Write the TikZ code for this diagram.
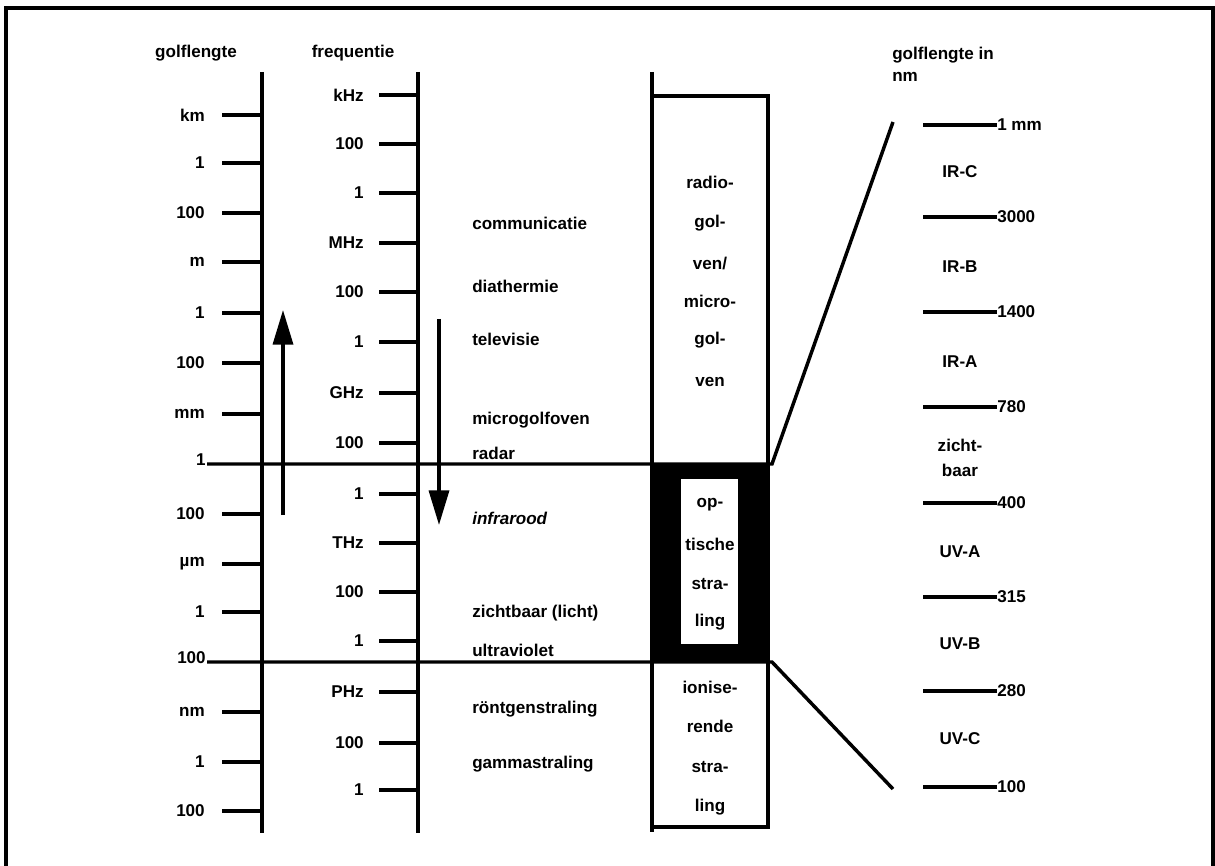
\documentclass[tikz,border=0pt]{standalone}
\usepackage{fontspec}
\setmainfont{Liberation Sans}
\usetikzlibrary{arrows.meta}
\begin{document}
\begin{tikzpicture}[x=0.75pt,y=-0.75pt,
  lbl/.style={inner sep=0pt, font=\fontsize{12.8}{15}\selectfont\bfseries},
  axisline/.style={line width=3.2pt},
  tickline/.style={line width=2.6pt},
  bigarrow/.style={line width=2.6pt,-{Triangle[length=26pt,width=15pt]}}]
\useasboundingbox (0,0) rectangle (1215,866);
% frame
\draw[line width=2.4pt] (6,866) -- (6,8) -- (1213,8) -- (1213,866);

% headers
\node[lbl] (hgl) at (196,53) {golflengte};
\node[lbl] (hfr) at (353,53) {frequentie};
\node[lbl,anchor=west] (hgn1) at (892,55) {golflengte in};
\node[lbl,anchor=west] (hgn2) at (892,77) {nm};

% wavelength axis
\draw[axisline] (262,72) -- (262,833);
\foreach \y/\t [count=\i] in {115/km,163/1,213/100,262/m,313/1,363/100,414/mm,514/100,564/µm,612/1,712/nm,762/1,811/100}{
  \draw[tickline] (222,\y) -- (262,\y);
  \node[lbl,anchor=east] (gl\i) at (205,\y) {\t};
}
\node[lbl,anchor=east] (gl1b) at (206,460) {1};
\node[lbl,anchor=east] (gl100b) at (206,658) {100};

% frequency axis
\draw[axisline] (418,72) -- (418,833);
\foreach \y/\t [count=\i] in {95/kHz,144/100,193/1,243/MHz,292/100,342/1,393/GHz,443/100,494/1,543/THz,592/100,641/1,692/PHz,743/100,790/1}{
  \draw[tickline] (379,\y) -- (418,\y);
  \node[lbl,anchor=east] (fr\i) at (364,\y) {\t};
}

% arrows
\coordinate (aup0) at (283,515);
\coordinate (aup1) at (283,310);
\coordinate (adn0) at (439,319);
\coordinate (adn1) at (439,525);
\draw[bigarrow] (aup0) -- (aup1);
\draw[bigarrow] (adn0) -- (adn1);

% application labels
\node[lbl,anchor=west] (a1) at (472,223) {communicatie};
\node[lbl,anchor=west] (a2) at (472,286) {diathermie};
\node[lbl,anchor=west] (a3) at (472,339) {televisie};
\node[lbl,anchor=west] (a4) at (472,420) {microgolfoven};
\node[lbl,anchor=west] (a5) at (472,453) {radar};
\node[lbl,anchor=west] (a6) at (472,518) {\itshape infrarood};
\node[lbl,anchor=west] (a7) at (472,613) {zichtbaar (licht)};
\node[lbl,anchor=west] (a8) at (472,650) {ultraviolet};
\node[lbl,anchor=west] (a9) at (472,709) {röntgenstraling};
\node[lbl,anchor=west] (a10) at (472,764) {gammastraling};

% box
\fill (652,464) rectangle (770,662);
\fill[white] (681,479) rectangle (738,644);
\draw[tickline] (652,72) -- (652,832);
\draw[tickline] (652,96) -- (768,96) -- (768,827) -- (652,827);

% long horizontal lines and zoom lines
\coordinate (L1a) at (207,464);
\coordinate (L1b) at (772,464);
\coordinate (L2a) at (207,662);
\coordinate (L2b) at (772,662);
\coordinate (Z1) at (893,122);
\coordinate (Z2) at (893,789);
\draw[tickline] (L1a) -- (L1b) -- (Z1);
\draw[tickline] (L2a) -- (L2b) -- (Z2);

% box texts
\foreach \y/\t [count=\i] in {182/radio-,223/gol-,263/{ven/},301/micro-,340/gol-,382/ven,505/op-,544/tische,584/stra-,622/ling,687/ionise-,726/rende,767/stra-,807/ling}{
  \node[lbl] (b\i) at (710,\y) {\t};
}

% right scale
\foreach \y/\t [count=\i] in {125/1 mm,217/3000,312/1400,407/780,503/400,597/315,691/280,787/100}{
  \draw[tickline] (923,\y) -- (997,\y);
  \node[lbl,anchor=west] (r\i) at (997,\y) {\t};
}
\foreach \y/\t [count=\i] in {172/IR-C,267/IR-B,362/IR-A,445/zicht-,470/baar,552/UV-A,644/UV-B,739/UV-C}{
  \node[lbl] (rl\i) at (960,\y) {\t};
}
\end{tikzpicture}
\end{document}
